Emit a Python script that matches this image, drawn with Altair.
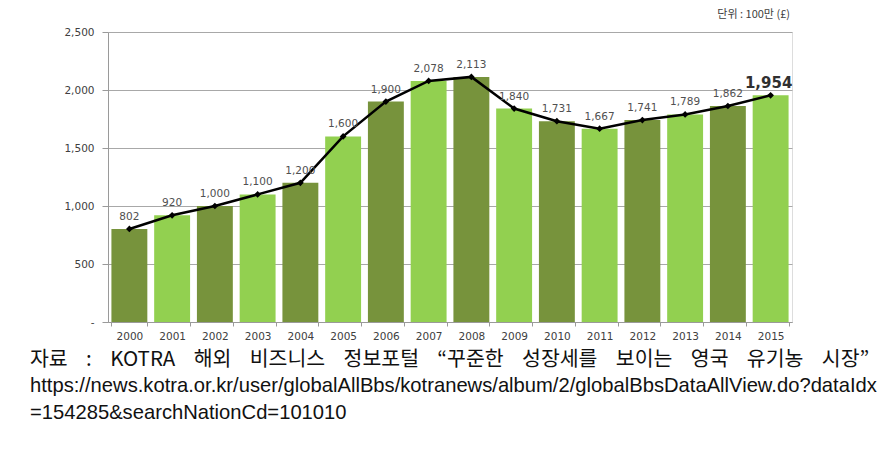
import altair as alt
import pandas as pd

years = [str(y) for y in range(2000, 2016)]
values = [802, 920, 1000, 1100, 1200, 1600, 1900, 2078, 2113, 1840, 1731, 1667, 1741, 1789, 1862, 1954]
tones = ["dark", "light"] * 8
tone_colors = ["#77933C", "#92D050"]
y_ticks = [0, 500, 1000, 1500, 2000, 2500]
unit_text = "단위 : 100만 (£)"
caption_ko = "자료 : KOTRA 해외 비즈니스 정보포털 “꾸준한 성장세를 보이는 영국 유기농 시장”"
caption_url1 = "https://news.kotra.or.kr/user/globalAllBbs/kotranews/album/2/globalBbsDataAllView.do?dataIdx"
caption_url2 = "=154285&searchNationCd=101010"

df = pd.DataFrame({"year": years, "value": values, "tone": tones})
df["label"] = [f"{v:,}" for v in values]
df["last"] = [i == len(values) - 1 for i in range(len(values))]

FONT = "DejaVu Sans"
x = alt.X("year:N", sort=years, title=None,
          scale=alt.Scale(paddingInner=0.16, paddingOuter=0.08),
          axis=alt.Axis(labelAngle=0, labelFont=FONT, labelFontSize=10.5, labelColor="#404040",
                        labelPadding=5, domainColor="#9a9a9a", tickColor="#9a9a9a",
                        tickSize=4, tickBand="extent", grid=False))
y = alt.Y("value:Q", title=None,
          scale=alt.Scale(domain=[0, 2500], nice=False),
          axis=alt.Axis(values=y_ticks, labelExpr="datum.value == 0 ? '-' : format(datum.value, ',')",
                        labelFont=FONT, labelFontSize=10.5, labelColor="#404040", labelPadding=8,
                        domainColor="#9a9a9a", tickColor="#9a9a9a", tickSize=6,
                        gridColor="#a8a8a8", gridWidth=1))

base = alt.Chart(df)
bars = base.mark_bar().encode(
    x=x, y=y,
    color=alt.Color("tone:N", scale=alt.Scale(domain=["dark", "light"], range=tone_colors), legend=None),
)
line = base.mark_line(color="black", strokeWidth=2.5,
                      point=alt.OverlayMarkDef(shape="diamond", size=45, color="black", filled=True)).encode(
    x=alt.X("year:N", sort=years), y="value:Q")
labels = base.transform_filter("!datum.last").mark_text(dy=-12, font=FONT, fontSize=10.5, color="#505050").encode(
    x=alt.X("year:N", sort=years), y="value:Q", text="label:N")
last_label = base.transform_filter("datum.last").mark_text(dy=-12, dx=-2, font=FONT, fontSize=15, fontWeight="bold", color="#303030").encode(
    x=alt.X("year:N", sort=years), y="value:Q", text="label:N")

def note(text, xpos, ypos, **kw):
    d = pd.DataFrame({"t": [text]})
    return alt.Chart(d).mark_text(baseline="middle", **kw).encode(
        x=alt.value(xpos), y=alt.value(ypos), text="t:N")

gap = " \u00a0\u00a0\u00a0"
unit = note(unit_text, 682, -17, align="right", font="Noto Sans CJK KR", fontSize=11, color="#404040")
cap1 = note(caption_ko.replace(" ", gap), -78, 328, align="left", font="Noto Sans CJK KR", fontSize=20.5, color="#111111")
cap2 = note(caption_url1, -78, 354, align="left", font="Liberation Sans", fontSize=20.2, color="#111111")
cap3 = note(caption_url2, -78, 381, align="left", font="Liberation Sans", fontSize=20.2, color="#111111")

chart = alt.layer(bars, line, labels, last_label, unit, cap1, cap2, cap3).properties(
    width=684, height=290,
    autosize=alt.AutoSizeParams(type="none"),
    padding={"left": 108, "top": 32, "right": 102, "bottom": 127},
).configure_view(stroke=None).configure(background="white")

chart.save("out.html", embed_options={"renderer": "svg", "actions": False})
